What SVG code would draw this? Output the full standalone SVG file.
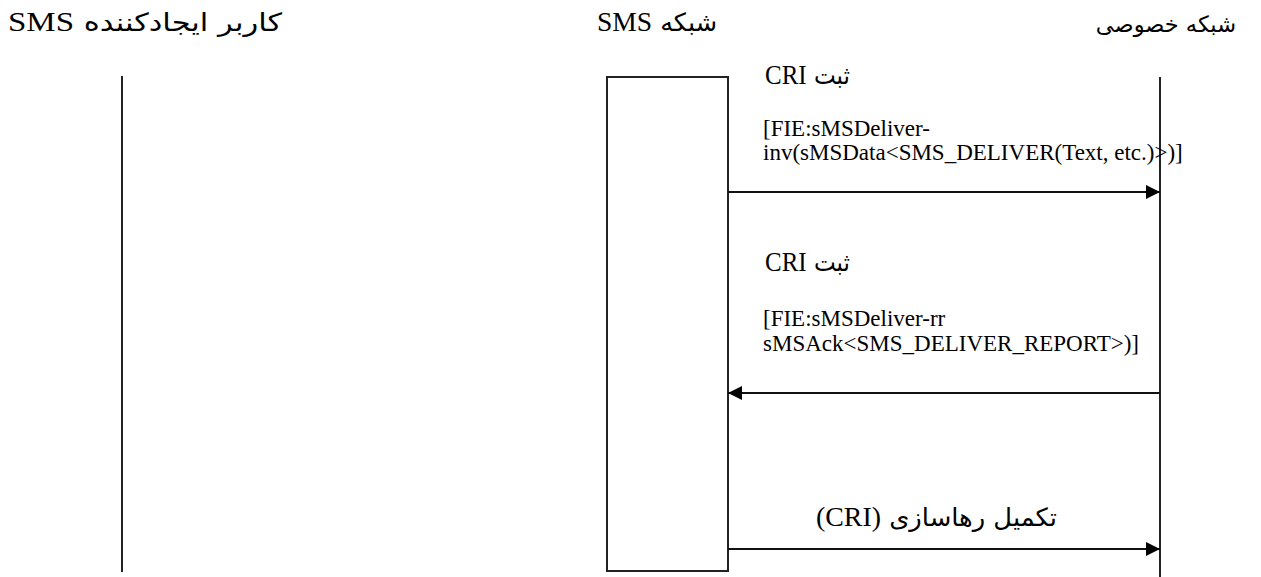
<svg xmlns="http://www.w3.org/2000/svg" width="1261" height="577" viewBox="0 0 1261 577">
<defs>
<style>
.lat{font-family:"Liberation Serif","Times New Roman",serif;font-size:23px;fill:#000}
.mix{font-family:"DejaVu Sans","Noto Sans",sans-serif;font-size:25px;fill:#000}
.ser{font-family:"Liberation Serif","Times New Roman",serif;font-size:27px}
.sans{font-family:"DejaVu Sans","Noto Sans",sans-serif;font-size:22.5px;fill:#000}
.line{stroke:#222;stroke-width:2;fill:none}
.conn{stroke:#111;stroke-width:2;fill:none}
</style>
<marker id="ah" viewBox="0 0 14 14" refX="14" refY="7" markerWidth="14" markerHeight="14" markerUnits="userSpaceOnUse" orient="auto">
<path d="M0,0 L14,7 L0,14 Z" fill="#000"/>
</marker>
</defs>
<rect width="1261" height="577" fill="#fff"/>
<g id="node-originator">
<text class="mix" x="282" y="31" direction="rtl" text-anchor="start" textLength="274" lengthAdjust="spacingAndGlyphs">كاربر ايجادكننده <tspan class="ser">SMS</tspan></text>
<line class="line" x1="122" y1="76" x2="122" y2="572"/>
</g>
<g id="node-sms-network">
<text class="mix" x="717" y="31" direction="rtl" text-anchor="start" textLength="120" lengthAdjust="spacingAndGlyphs">شبکه <tspan class="ser">SMS</tspan></text>
<rect class="line" x="607" y="77" width="121" height="494"/>
</g>
<g id="node-private-network">
<text class="sans" x="1236" y="32" direction="rtl" text-anchor="start">شبکه خصوصی</text>
<line class="line" x1="1160" y1="77" x2="1160" y2="577"/>
</g>
<g id="connectors">
<line class="conn" x1="728" y1="192" x2="1160" y2="192" marker-end="url(#ah)"/>
<line class="conn" x1="1160" y1="393" x2="728" y2="393" marker-end="url(#ah)"/>
<line class="conn" x1="728" y1="549" x2="1160" y2="549" marker-end="url(#ah)"/>
</g>
<g id="labels">
<text class="mix" x="850" y="84" direction="rtl" text-anchor="start" textLength="85" lengthAdjust="spacingAndGlyphs">ثبت <tspan class="ser">CRI</tspan></text>
<text class="lat" x="763" y="136">[FIE:sMSDeliver-</text>
<text class="lat" x="763" y="160">inv(sMSData&lt;SMS_DELIVER(Text, etc.)&gt;)]</text>
<text class="mix" x="850" y="271" direction="rtl" text-anchor="start" textLength="85" lengthAdjust="spacingAndGlyphs">ثبت <tspan class="ser">CRI</tspan></text>
<text class="lat" x="763" y="326">[FIE:sMSDeliver-rr</text>
<text class="lat" x="763" y="351">sMSAck&lt;SMS_DELIVER_REPORT&gt;)]</text>
<text class="mix" x="1057" y="526" direction="rtl" text-anchor="start" textLength="241" lengthAdjust="spacingAndGlyphs">تکمیل رهاسازی <tspan class="ser">(CRI)</tspan></text>
</g>
</svg>
